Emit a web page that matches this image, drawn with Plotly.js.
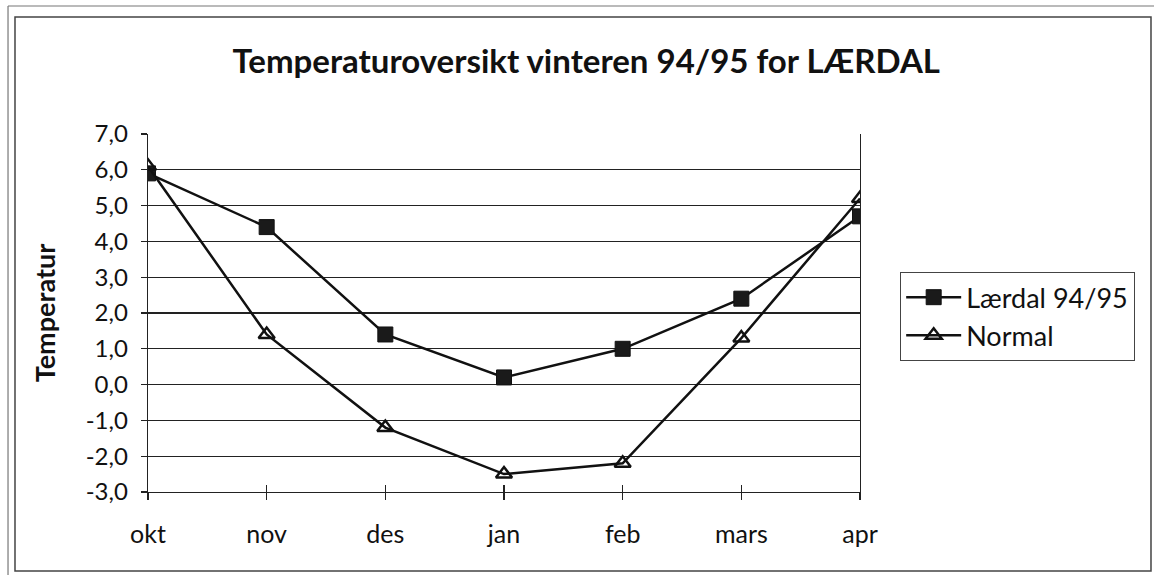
<!DOCTYPE html>
<html>
<head>
<meta charset="utf-8">
<script src="https://cdn.plot.ly/plotly-3.0.1.min.js"></script>
<style>html,body{margin:0;padding:0;background:#fff;}#chart{width:1154px;height:575px;}</style>
</head>
<body>
<div id="chart"></div>
<script>
var months = ["okt", "nov", "des", "jan", "feb", "mars", "apr"];
var laerdal = [5.9, 4.4, 1.4, 0.2, 1.0, 2.4, 4.7];
var normal = [6.1, 1.4, -1.2, -2.5, -2.2, 1.3, 5.2];
var yTicks = [-3, -2, -1, 0, 1, 2, 3, 4, 5, 6, 7];
var yTickText = yTicks.map(function (v) { return v.toFixed(1).replace(".", ","); });

var FONT = "Lato, 'Open Sans', sans-serif";

var traces = [
  {
    x: months, y: laerdal, name: "Lærdal 94/95", type: "scatter", mode: "lines+markers",
    line: {color: "#111", width: 2.5},
    marker: {symbol: "square", size: 15, color: "#1a1a1a", line: {color: "#111", width: 1}},
    xaxis: "x", yaxis: "y"
  },
  {
    x: months, y: normal, name: "Normal", type: "scatter", mode: "lines+markers",
    line: {color: "#111", width: 2.5},
    marker: {symbol: "triangle-up-open", size: 14, color: "#111", line: {color: "#111", width: 2.5}},
    xaxis: "x", yaxis: "y"
  }
];

var layout = {
  width: 1154, height: 575,
  margin: {l: 148, r: 294, t: 134, b: 83},
  paper_bgcolor: "#fff", plot_bgcolor: "#fff",
  font: {family: FONT, color: "#111", size: 24},
  title: {
    text: "<b>Temperaturoversikt vinteren 94/95 for LÆRDAL</b>",
    x: 0.508, xanchor: "center", y: 0.893, yanchor: "middle",
    font: {family: FONT, size: 33, color: "#111"}
  },
  xaxis: {
    type: "category", categoryorder: "array", categoryarray: months,
    range: [0, 6], showgrid: false, zeroline: false,
    showline: true, linecolor: "#222", linewidth: 1.3, mirror: false,
    ticks: "outside", ticklen: 7, tickwidth: 1.3, tickcolor: "#222",
    ticklabelstandoff: 13,
    tickfont: {family: FONT, size: 25, color: "#111"}
  },
  xaxis2: {
    type: "category", categoryorder: "array", categoryarray: months,
    range: [0, 6], overlaying: "x", anchor: "y", side: "bottom",
    showgrid: false, zeroline: false, showline: false,
    ticks: "inside", ticklen: 7, tickwidth: 1.3, tickcolor: "#222",
    showticklabels: false
  },
  yaxis: {
    range: [-3, 7], tickvals: yTicks, ticktext: yTickText,
    showgrid: true, gridcolor: "#222", gridwidth: 1.2,
    zeroline: false,
    showline: true, linecolor: "#222", linewidth: 1.3, mirror: true,
    ticks: "outside", ticklen: 6, tickwidth: 1.3, tickcolor: "#222",
    ticklabelstandoff: 8,
    tickfont: {family: FONT, size: 24, color: "#111"},
    title: {text: "<b>Temperatur</b>", standoff: 22, font: {family: FONT, size: 27, color: "#111"}}
  },
  showlegend: true,
  legend: {
    x: 1.056, xanchor: "left", y: 0.615, yanchor: "top",
    bordercolor: "#444", borderwidth: 1.3, bgcolor: "#fff",
    font: {family: FONT, size: 27, color: "#111"},
    itemwidth: 55, tracegroupgap: 6
  },
  shapes: [
    {type: "rect", xref: "paper", yref: "paper", x0: -0.1868, x1: 1.4087, y0: -0.2207, y1: 1.3268,
     line: {color: "#444", width: 1.5}, layer: "below"},
    {type: "line", xref: "paper", yref: "paper", x0: -0.1966, x1: 1.42, y0: 1.3575, y1: 1.3575,
     line: {color: "#777", width: 1.2}},
    {type: "line", xref: "paper", yref: "paper", x0: -0.1966, x1: -0.1966, y0: -0.25, y1: 1.3575,
     line: {color: "#777", width: 1.2}}
  ]
};

traces.push({x: months, y: laerdal, xaxis: "x2", yaxis: "y", mode: "markers", marker: {opacity: 0}, showlegend: false, hoverinfo: "skip"});

Plotly.newPlot("chart", traces, layout, {displayModeBar: false, staticPlot: true});
</script>
</body>
</html>
